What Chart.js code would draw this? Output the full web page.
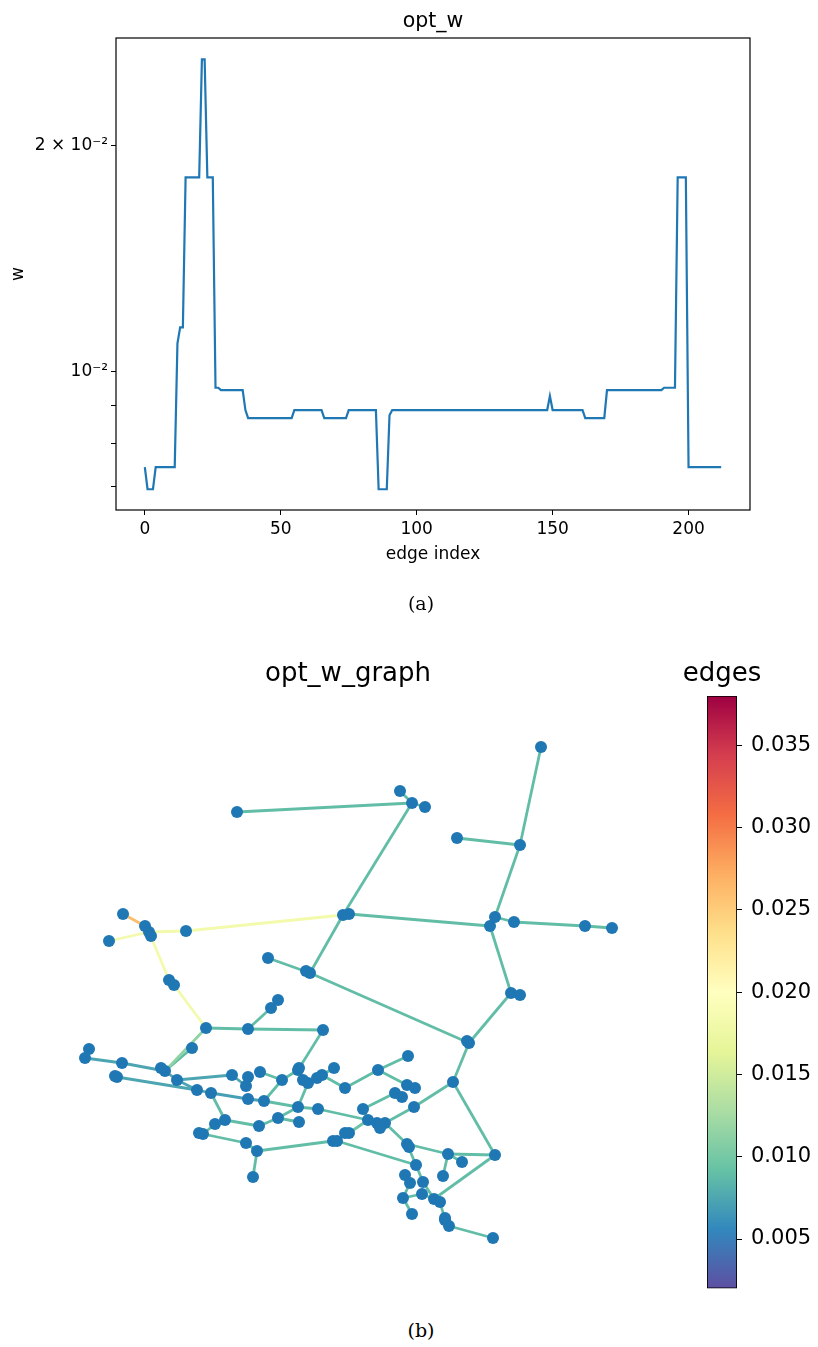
<!DOCTYPE html>
<html>
<head>
<meta charset="utf-8">
<script src="https://cdn.jsdelivr.net/npm/chart.js@4.4.0/dist/chart.umd.min.js"></script>
<style>
html,body{margin:0;padding:0;background:#fff;}
body{width:818px;height:1347px;position:relative;overflow:hidden;font-family:"DejaVu Sans",sans-serif;}
.cv{position:absolute;}
.cap{position:absolute;font-family:"DejaVu Serif","Liberation Serif",serif;font-size:19px;color:#000;width:60px;text-align:center;line-height:22px;}
</style>
</head>
<body>
<div class="cv" style="left:0;top:0;width:818px;height:600px;"><canvas id="topChart"></canvas></div>
<div class="cap" style="left:391px;top:592px;">(a)</div>
<div class="cv" style="left:0;top:650px;width:696px;height:660px;"><canvas id="graphChart"></canvas></div>
<div class="cv" style="left:626px;top:650px;width:192px;height:660px;"><canvas id="cbarChart"></canvas></div>
<div class="cap" style="left:391px;top:1319px;">(b)</div>
<script>
// ---------- data: panel (a) ----------
const optW = [
  0.00744, 0.00695, 0.00695, 0.00695, 0.00744, 0.00744, 0.00744, 0.00744, 0.00744, 0.00744,
  0.00744, 0.00744, 0.01089, 0.01144, 0.01144, 0.01816, 0.01816, 0.01816, 0.01816, 0.01816,
  0.01816, 0.02612, 0.02612, 0.01816, 0.01816, 0.01816, 0.00950, 0.00950, 0.00943, 0.00943,
  0.00943, 0.00943, 0.00943, 0.00943, 0.00943, 0.00943, 0.00943, 0.00887, 0.00865, 0.00865,
  0.00865, 0.00865, 0.00865, 0.00865, 0.00865, 0.00865, 0.00865, 0.00865, 0.00865, 0.00865,
  0.00865, 0.00865, 0.00865, 0.00865, 0.00865, 0.00887, 0.00887, 0.00887, 0.00887, 0.00887,
  0.00887, 0.00887, 0.00887, 0.00887, 0.00887, 0.00887, 0.00865, 0.00865, 0.00865, 0.00865,
  0.00865, 0.00865, 0.00865, 0.00865, 0.00865, 0.00887, 0.00887, 0.00887, 0.00887, 0.00887,
  0.00887, 0.00887, 0.00887, 0.00887, 0.00887, 0.00887, 0.00695, 0.00695, 0.00695, 0.00695,
  0.00873, 0.00887, 0.00887, 0.00887, 0.00887, 0.00887, 0.00887, 0.00887, 0.00887, 0.00887,
  0.00887, 0.00887, 0.00887, 0.00887, 0.00887, 0.00887, 0.00887, 0.00887, 0.00887, 0.00887,
  0.00887, 0.00887, 0.00887, 0.00887, 0.00887, 0.00887, 0.00887, 0.00887, 0.00887, 0.00887,
  0.00887, 0.00887, 0.00887, 0.00887, 0.00887, 0.00887, 0.00887, 0.00887, 0.00887, 0.00887,
  0.00887, 0.00887, 0.00887, 0.00887, 0.00887, 0.00887, 0.00887, 0.00887, 0.00887, 0.00887,
  0.00887, 0.00887, 0.00887, 0.00887, 0.00887, 0.00887, 0.00887, 0.00887, 0.00887, 0.00926,
  0.00887, 0.00887, 0.00887, 0.00887, 0.00887, 0.00887, 0.00887, 0.00887, 0.00887, 0.00887,
  0.00887, 0.00887, 0.00865, 0.00865, 0.00865, 0.00865, 0.00865, 0.00865, 0.00865, 0.00865,
  0.00943, 0.00943, 0.00943, 0.00943, 0.00943, 0.00943, 0.00943, 0.00943, 0.00943, 0.00943,
  0.00943, 0.00943, 0.00943, 0.00943, 0.00943, 0.00943, 0.00943, 0.00943, 0.00943, 0.00943,
  0.00943, 0.00950, 0.00950, 0.00950, 0.00950, 0.00950, 0.01816, 0.01816, 0.01816, 0.01816,
  0.00744, 0.00744, 0.00744, 0.00744, 0.00744, 0.00744, 0.00744, 0.00744, 0.00744, 0.00744,
  0.00744, 0.00744, 0.00744
];
const xTicks = [0, 50, 100, 150, 200];
const yTicks = [0.007, 0.008, 0.009, 0.01, 0.02];
const yTickLabels = ['', '', '', '10\u207B\u00B2', '2 \u00D7 10\u207B\u00B2'];

// ---------- data: panel (b) ----------
const nodes = [
  [237,812],[400,791],[412,803],[425,807],[343,915],[349,914],[541,747],[520,845],[457,838],[490,926],
  [495,917],[514,922],[585,926],[612,928],[123,914],[145,926],[149,932],[109,941],[186,931],[169,980],
  [174,985],[206,1028],[248,1029],[323,1030],[192,1048],[165,1071],[89,1049],[85,1058],[122,1063],[117,1077],
  [177,1080],[232,1075],[197,1090],[211,1093],[248,1099],[264,1101],[298,1107],[318,1109],[248,1077],[246,1086],
  [260,1072],[282,1080],[298,1070],[303,1080],[308,1083],[317,1078],[322,1075],[334,1068],[345,1088],[378,1070],
  [408,1056],[407,1085],[415,1088],[395,1093],[402,1097],[363,1109],[414,1107],[453,1082],[368,1120],[377,1123],
  [385,1123],[380,1128],[407,1144],[349,1133],[333,1141],[337,1141],[416,1165],[448,1154],[495,1155],[462,1162],
  [443,1176],[405,1175],[410,1183],[423,1182],[403,1198],[422,1194],[434,1199],[440,1202],[412,1214],[445,1220],
  [449,1226],[493,1238],[469,1043],[511,993],[520,995],[310,973],[268,958],[271,1008],[278,1000],[225,1120],
  [259,1126],[278,1118],[299,1122],[215,1124],[203,1134],[246,1143],[257,1151],[253,1177],[161,1068],[115,1076],
  [199,1133],[306,971],[151,936],[345,1133],[409,1147],[445,1218],[467,1041],[299,1068]
];
const edges = [
  [0,2,0.0089],[1,2,0.0089],[2,3,0.0089],[2,4,0.0089],[4,5,0.0089],
  [6,7,0.0089],[8,7,0.0089],[7,10,0.0089],[9,10,0.0089],[10,11,0.0089],[11,12,0.0089],[12,13,0.0089],
  [5,9,0.0089],[9,83,0.0089],[83,84,0.0089],[83,82,0.0089],
  [4,85,0.0089],[85,86,0.0089],[85,82,0.0089],[85,101,0.0089],
  [82,57,0.0089],[82,106,0.0089],[57,56,0.0089],[57,68,0.0089],
  [14,15,0.0261],[15,16,0.0089],[16,102,0.0089],[17,16,0.0182],[16,18,0.0182],[18,4,0.0182],[16,19,0.0182],[19,20,0.0089],[20,21,0.0182],
  [21,22,0.0089],[22,23,0.0089],[21,25,0.0114],[24,25,0.0089],[22,87,0.0089],[87,88,0.0089],[23,42,0.0089],
  [26,27,0.0074],[27,28,0.0074],[28,25,0.0074],[25,98,0.0074],[29,99,0.0074],[29,32,0.0074],[25,30,0.0074],[30,31,0.0074],[30,32,0.0074],[32,33,0.0074],[33,34,0.0070],[34,35,0.0070],
  [35,36,0.0089],[35,41,0.0089],[31,39,0.0074],[38,39,0.0089],[40,41,0.0089],[41,42,0.0089],[42,107,0.0089],[42,43,0.0089],[43,44,0.0089],[44,45,0.0089],[45,46,0.0089],[46,47,0.0089],[46,48,0.0089],[44,36,0.0089],[36,37,0.0089],[37,58,0.0089],
  [48,49,0.0089],[49,50,0.0089],[49,51,0.0089],[51,52,0.0089],[53,54,0.0089],[53,55,0.0089],[55,58,0.0089],
  [58,59,0.0089],[59,60,0.0089],[59,61,0.0089],[60,56,0.0089],[60,62,0.0089],[62,104,0.0089],
  [58,63,0.0095],[63,103,0.0089],[63,64,0.0089],[64,65,0.0089],[64,96,0.0089],[65,66,0.0089],[62,66,0.0089],
  [62,67,0.0089],[67,68,0.0089],[67,69,0.0089],[67,70,0.0089],
  [66,73,0.0089],[73,76,0.0089],[71,72,0.0089],[72,74,0.0089],[74,75,0.0089],[74,78,0.0089],[75,76,0.0089],[76,68,0.0089],[76,77,0.0089],[77,79,0.0089],[79,105,0.0089],[79,80,0.0089],[80,81,0.0089],
  [33,89,0.0089],[89,90,0.0089],[90,91,0.0089],[91,36,0.0089],[91,92,0.0089],[89,93,0.0089],[93,94,0.0089],[94,100,0.0089],[94,95,0.0089],[95,96,0.0089],[96,97,0.0089]
];
const cbarMin = 0.002, cbarMax = 0.038;
const cbarTicks = [0.005, 0.010, 0.015, 0.020, 0.025, 0.030, 0.035];

// ---------- styling helpers ----------
Chart.defaults.font.family = "'DejaVu Sans', sans-serif";
Chart.defaults.color = '#000';
const spectral = [[158,1,66],[213,62,79],[244,109,67],[253,174,97],[254,224,139],[255,255,191],[230,245,152],[171,221,164],[102,194,165],[50,136,189],[94,79,162]];
function spectralR(t) {
  t = Math.min(1, Math.max(0, t));
  const s = (1 - t) * 10, i = Math.min(9, Math.floor(s)), f = s - i;
  const a = spectral[i], b = spectral[i + 1];
  return 'rgb(' + a.map((v, k) => Math.round(v + (b[k] - v) * f)).join(',') + ')';
}
const cmap = w => spectralR((w - cbarMin) / (cbarMax - cbarMin));

const framePlugin = {
  id: 'frame',
  afterDraw(chart) {
    const {ctx, chartArea: a} = chart;
    ctx.save();
    ctx.strokeStyle = '#000';
    ctx.lineWidth = 1.2;
    ctx.strokeRect(a.left, a.top, a.right - a.left, a.bottom - a.top);
    ctx.restore();
  }
};

// ---------- panel (a) ----------
new Chart(document.getElementById('topChart'), {
  type: 'line',
  data: {
    datasets: [{
      data: optW.map((v, i) => ({x: i, y: v})),
      borderColor: '#1f77b4',
      borderWidth: 2.2,
      pointRadius: 0,
      tension: 0,
      fill: false
    }]
  },
  options: {
    responsive: true, maintainAspectRatio: false, animation: false,
    layout: {autoPadding: false, padding: {left: 0, right: 68, top: 0, bottom: 30.8}},
    plugins: {
      legend: {display: false}, tooltip: {enabled: false},
      title: {display: true, text: 'opt_w', fullSize: false, color: '#000',
        font: {size: 20.5, weight: 'normal'}, padding: {top: 9, bottom: 4.4}}
    },
    scales: {
      x: {
        type: 'linear', min: -10.6, max: 222.6, bounds: 'data',
        afterBuildTicks: s => { s.ticks = xTicks.map(v => ({value: v})); },
        ticks: {color: '#000', font: {size: 17}, padding: 4, maxRotation: 0, autoSkip: false},
        grid: {drawOnChartArea: false, drawTicks: true, tickLength: 5, tickColor: '#000', tickWidth: 1},
        border: {display: false},
        title: {display: true, text: 'edge index', color: '#000', font: {size: 17}, padding: {top: 0, bottom: 4}},
        afterFit: s => { s.height = 59.2; }
      },
      y: {
        type: 'logarithmic', min: 0.00652, max: 0.02789, bounds: 'data',
        afterBuildTicks: s => { s.ticks = yTicks.map(v => ({value: v})); },
        ticks: {color: '#000', font: {size: 17}, padding: 3, autoSkip: false,
          callback: (v, i) => yTickLabels[i]},
        grid: {drawOnChartArea: false, drawTicks: true, tickLength: 5, tickColor: '#000', tickWidth: 1},
        border: {display: false},
        title: {display: true, text: 'w', color: '#000', font: {size: 17}, padding: {top: 8, bottom: 0}},
        afterFit: s => { s.width = 116; }
      }
    }
  },
  plugins: [framePlugin]
});

// ---------- panel (b): graph ----------
const edgeDatasets = edges.map(([a, b, w]) => ({
  type: 'line',
  data: [{x: nodes[a][0], y: nodes[a][1]}, {x: nodes[b][0], y: nodes[b][1]}],
  borderColor: cmap(w),
  borderWidth: 2.8,
  pointRadius: 0,
  showLine: true,
  tension: 0,
  order: 1
}));
new Chart(document.getElementById('graphChart'), {
  type: 'scatter',
  data: {
    datasets: [{
      data: nodes.map(([x, y]) => ({x, y})),
      backgroundColor: '#1f77b4',
      borderWidth: 0,
      pointRadius: 6,
      pointHoverRadius: 6,
      order: 0
    }].concat(edgeDatasets)
  },
  options: {
    responsive: true, maintainAspectRatio: false, animation: false,
    layout: {autoPadding: false, padding: 0},
    plugins: {
      legend: {display: false}, tooltip: {enabled: false},
      title: {display: true, text: 'opt_w_graph', color: '#000',
        font: {size: 26, weight: 'normal'}, padding: {top: 8.4, bottom: 10.4}}
    },
    scales: {
      x: {type: 'linear', display: false, min: 0, max: 696, bounds: 'data'},
      y: {type: 'linear', display: false, min: 700, max: 1310, reverse: true, bounds: 'data'}
    }
  }
});

// ---------- panel (b): colorbar ----------
new Chart(document.getElementById('cbarChart'), {
  type: 'bar',
  data: {
    labels: ['edges'],
    datasets: [{
      data: [[cbarMin, cbarMax]],
      backgroundColor: ctx => {
        const ch = ctx.chart, a = ch.chartArea;
        if (!a) return '#ffffff';
        const g = ch.ctx.createLinearGradient(0, a.bottom, 0, a.top);
        for (let i = 0; i <= 10; i++) g.addColorStop(i / 10, spectralR(i / 10));
        return g;
      },
      borderColor: '#000',
      borderWidth: 1.2,
      borderSkipped: false,
      barPercentage: 1,
      categoryPercentage: 1
    }]
  },
  options: {
    responsive: true, maintainAspectRatio: false, animation: false,
    layout: {autoPadding: false, padding: {left: 0, right: 0, top: 0, bottom: 20}},
    plugins: {
      legend: {display: false}, tooltip: {enabled: false},
      title: {display: true, text: 'edges', color: '#000',
        font: {size: 26, weight: 'normal'}, padding: {top: 8.4, bottom: 6.4}}
    },
    scales: {
      x: {display: false},
      y: {
        type: 'linear', position: 'right', min: cbarMin, max: cbarMax, bounds: 'data',
        afterBuildTicks: s => { s.ticks = cbarTicks.map(v => ({value: v})); },
        ticks: {color: '#000', font: {size: 21}, padding: 9, autoSkip: false,
          callback: v => v.toFixed(3)},
        grid: {drawOnChartArea: false, drawTicks: true, tickLength: 5, tickColor: '#000', tickWidth: 1},
        border: {display: false},
        afterFit: s => { s.width = 81; }
      },
      yL: {
        type: 'linear', position: 'left', display: true,
        ticks: {display: false}, grid: {display: false}, border: {display: false},
        afterFit: s => { s.width = 81; }
      }
    }
  }
});
</script>
</body>
</html>
